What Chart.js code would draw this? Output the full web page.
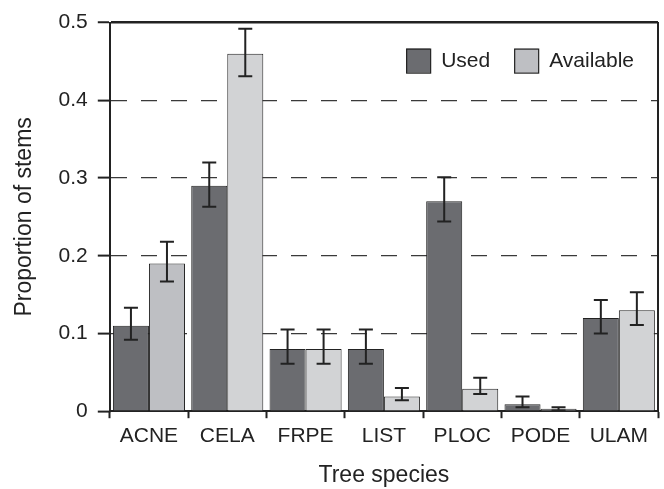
<!DOCTYPE html>
<html>
<head>
<meta charset="utf-8">
<script src="https://cdn.jsdelivr.net/npm/chart.js@4/dist/chart.umd.min.js"></script>
<style>
  html, body { margin: 0; padding: 0; background: #fff; }
  #wrap { width: 664px; height: 489px; }
</style>
</head>
<body>
<div id="wrap"><canvas id="chart" width="664" height="489"></canvas></div>
<script>
const species = ["ACNE", "CELA", "FRPE", "LIST", "PLOC", "PODE", "ULAM"];

const usedValues = [0.11, 0.29, 0.08, 0.08, 0.27, 0.009, 0.12];
const usedLow    = [0.092, 0.263, 0.061, 0.061, 0.244, 0.005, 0.10];
const usedHigh   = [0.133, 0.32, 0.105, 0.105, 0.301, 0.019, 0.143];

const availValues = [0.19, 0.46, 0.08, 0.019, 0.029, 0.003, 0.13];
const availLow    = [0.167, 0.431, 0.061, 0.014, 0.022, 0.001, 0.111];
const availHigh   = [0.218, 0.492, 0.105, 0.03, 0.043, 0.005, 0.153];

const yTicks = [0, 0.1, 0.2, 0.3, 0.4, 0.5];

const FONT = "'Liberation Sans', Arial, Helvetica, sans-serif";
const INK = "#222";

// error bars drawn from the low/high arrays through the y scale
const errorBars = {
  id: "errorBars",
  afterDatasetsDraw(chart){
    const ctx = chart.ctx;
    const y = chart.scales.y;
    chart.data.datasets.forEach((ds, i)=>{
      const meta = chart.getDatasetMeta(i);
      meta.data.forEach((bar, j)=>{
        const top = y.getPixelForValue(ds.errHigh[j]);
        const bot = y.getPixelForValue(ds.errLow[j]);
        ctx.save();
        ctx.strokeStyle = INK;
        ctx.lineWidth = 2;
        ctx.beginPath();
        ctx.moveTo(bar.x, top); ctx.lineTo(bar.x, bot);
        ctx.moveTo(bar.x - 7, top); ctx.lineTo(bar.x + 7, top);
        ctx.moveTo(bar.x - 7, bot); ctx.lineTo(bar.x + 7, bot);
        ctx.stroke();
        ctx.restore();
      });
    });
  }
};

// legend sits inside the plot, top right
const insideLegend = {
  id: "insideLegend",
  afterDraw(chart){
    const ctx = chart.ctx;
    const area = chart.chartArea;
    const box = 24, textGap = 11, itemGap = 24;
    ctx.save();
    ctx.font = "21px " + FONT;
    ctx.textBaseline = "middle";
    const items = chart.data.datasets.map((ds, i)=>({
      label: ds.label,
      color: chart.getDatasetMeta(i).controller.getStyle(undefined).backgroundColor,
      w: ctx.measureText(ds.label).width
    }));
    let total = items.reduce((s, it)=> s + box + textGap + it.w, 0) + itemGap * (items.length - 1);
    let x = area.right - 24 - total;
    const yMid = area.top + 38;
    items.forEach((it)=>{
      ctx.fillStyle = it.color;
      ctx.fillRect(x, yMid - box / 2, box, box);
      ctx.strokeStyle = INK;
      ctx.lineWidth = 1.2;
      ctx.strokeRect(x + 0.5, yMid - box / 2 + 0.5, box, box);
      ctx.fillStyle = INK;
      ctx.fillText(it.label, x + box + textGap, yMid + 1);
      x += box + textGap + it.w + itemGap;
    });
    ctx.restore();
  }
};

new Chart(document.getElementById("chart"), {
  type: "bar",
  data: {
    labels: species,
    datasets: [{
      label: "Used",
      data: usedValues,
      errLow: usedLow,
      errHigh: usedHigh,
      backgroundColor: "#6b6c70",
      borderColor: INK,
      borderWidth: 1
    }, {
      label: "Available",
      data: availValues,
      errLow: availLow,
      errHigh: availHigh,
      backgroundColor: (c)=> c.dataIndex === 0 ? "#bebfc3" : "#d2d3d5",
      borderColor: INK,
      borderWidth: 1
    }]
  },
  options: {
    responsive: false,
    animation: false,
    devicePixelRatio: 1,
    layout: { padding: { top: 1, right: 6, left: 11, bottom: 0 } },
    datasets: { bar: { barPercentage: 1, categoryPercentage: 0.92 } },
    plugins: {
      tooltip: { enabled: false },
      legend: { display: false }
    },
    scales: {
      x: {
        offset: true,
        grid: {
          offset: true,
          drawOnChartArea: false,
          drawTicks: true,
          tickLength: 7,
          tickColor: INK,
          tickWidth: 2
        },
        border: { color: INK, width: 2 },
        ticks: { color: INK, font: { family: FONT, size: 21 }, padding: 5 },
        title: {
          display: true,
          text: "Tree species",
          color: INK,
          font: { family: FONT, size: 23 },
          padding: { top: 8, bottom: 0 }
        }
      },
      y: {
        min: 0,
        max: 0.5,
        afterBuildTicks(scale){ scale.ticks = yTicks.map((v)=>({ value: v })); },
        ticks: {
          color: INK,
          font: { family: FONT, size: 21 },
          padding: 10,
          callback: (v)=> v === 0 ? "0" : v.toFixed(1)
        },
        grid: {
          color: (c)=> c.index === yTicks.length - 1 ? INK : (c.index === 0 ? "rgba(0,0,0,0)" : "#3a3a3a"),
          lineWidth: (c)=> c.index === yTicks.length - 1 ? 2.5 : 1.2,
          tickLength: 12,
          tickColor: INK,
          tickWidth: 2
        },
        border: {
          color: INK,
          width: 2,
          dash: (c)=> c.index === yTicks.length - 1 ? [] : [16, 14]
        },
        title: {
          display: true,
          text: "Proportion of stems",
          color: INK,
          font: { family: FONT, size: 23 },
          padding: { top: 0, bottom: 10 }
        }
      },
      yRight: {
        position: "right",
        min: 0,
        max: 0.5,
        ticks: { display: false },
        grid: { drawOnChartArea: false, drawTicks: false },
        border: { color: INK, width: 2 }
      }
    }
  },
  plugins: [errorBars, insideLegend]
});
</script>
</body>
</html>
